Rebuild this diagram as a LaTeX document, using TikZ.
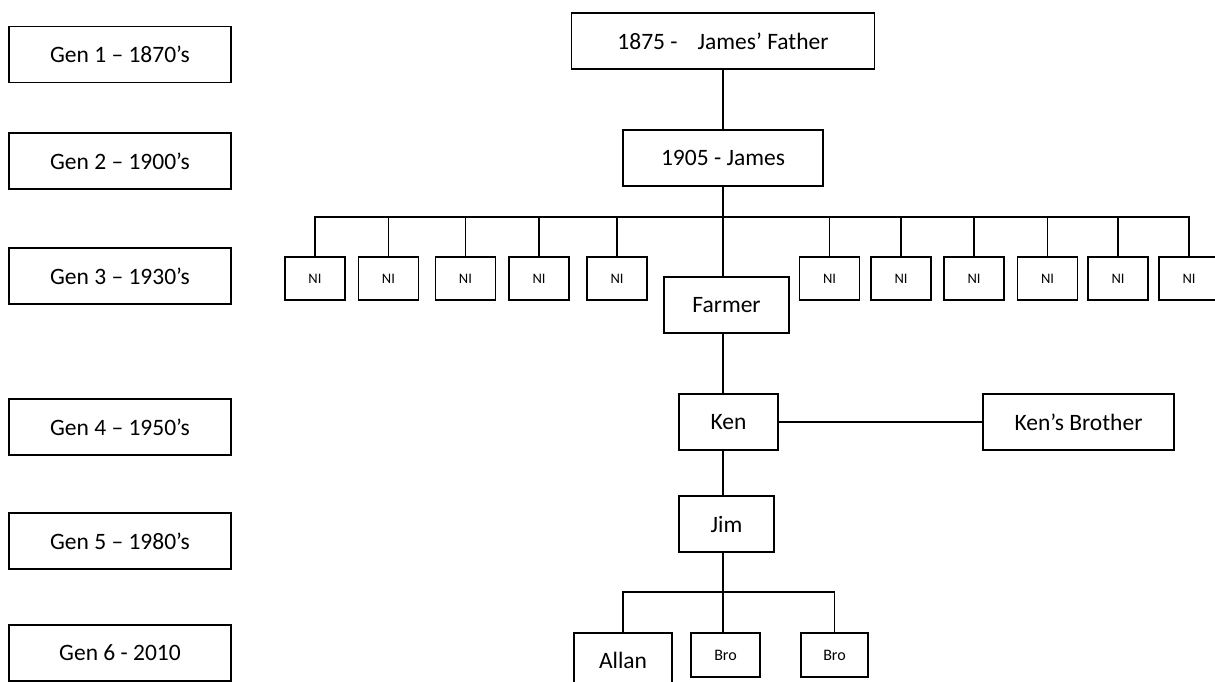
\documentclass[tikz,border=0pt]{standalone}
\usepackage{fontspec}
\setmainfont{Carlito}
\begin{document}
\begin{tikzpicture}[x=1pt,y=-1pt,
  box/.style={draw, line width=1.7pt, inner sep=0pt, font=\fontsize{23.5}{28}\selectfont},
  genbox/.style={box, minimum width=222, minimum height=56},
  nibox/.style={box, minimum width=60, minimum height=43, font=\fontsize{14.5}{17}\selectfont},
  brobox/.style={box, minimum height=44, font=\fontsize{16}{19}\selectfont},
  link/.style={line width=1.5pt}]
\clip (0,0) rectangle (1215,682);

% generation labels
\node[genbox] (g1) at (120,54.5) {Gen 1 – 1870’s};
\node[genbox] (g2) at (120,161)  {Gen 2 – 1900’s};
\node[genbox] (g3) at (120,276)  {Gen 3 – 1930’s};
\node[genbox] (g4) at (120,427)  {Gen 4 – 1950’s};
\node[genbox] (g5) at (120,541)  {Gen 5 – 1980’s};
\node[genbox] (g6) at (120,653)  {Gen 6 - 2010};

% family tree
\node[box, minimum width=303, minimum height=56] (father) at (723,41) {1875 -\hspace{20pt}James’ Father};
\node[box, minimum width=200, minimum height=56] (james) at (723,158) {1905 - James};

\foreach \n/\x in {1/315, 2/388.5, 3/465.5, 4/539, 5/617,
                   6/829.5, 7/901, 8/974, 9/1047.5, 10/1118, 11/1189}
  \node[nibox] (ni\n) at (\x,278.5) {NI};

\node[box, minimum width=125, minimum height=56] (farmer) at (726.5,305) {Farmer};
\node[box, minimum width=99, minimum height=56] (ken) at (728.5,422) {Ken};
\node[box, minimum width=191, minimum height=56] (kenbro) at (1078.5,422) {Ken’s Brother\hspace{16pt}};
\node[box, minimum width=95, minimum height=56] (jim) at (726.5,524) {Jim};
\node[box, minimum width=98, minimum height=54] (allan) at (623,660) {Allan};
\node[brobox, minimum width=69] (bro1) at (725.5,655) {Bro};
\node[brobox, minimum width=67] (bro2) at (834.5,655) {Bro};

\coordinate (bus1) at (723,217);
\coordinate (bus2) at (723,592);

% connectors
\draw[link] (father) -- (james);
\draw[link] (james.south) -- (james.south |- farmer.north);
\draw[link] (ni1.north) |- (ni11.north |- bus1) -- (ni11.north);
\foreach \n in {2,...,10}
  \draw[link] (ni\n.north) -- (ni\n.north |- bus1);
\draw[link] (farmer.south -| james.south) -- (ken.north -| james.south);
\draw[link] (ken) -- (kenbro);
\draw[link] (ken.south -| james.south) -- (jim.north -| james.south);
\draw[link] (jim.south -| james.south) -- (bro1.north -| james.south);
\draw[link] (allan.north) |- (bro2.north |- bus2) -- (bro2.north);
\end{tikzpicture}
\end{document}
